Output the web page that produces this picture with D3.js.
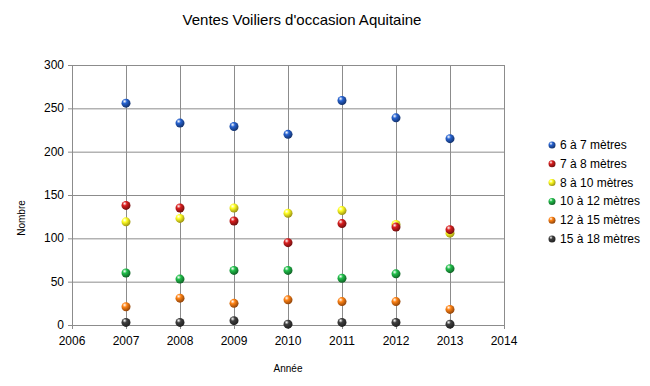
<!DOCTYPE html>
<html>
<head>
<meta charset="utf-8">
<script src="https://d3js.org/d3.v7.min.js"></script>
<style>
  body { margin: 0; background: #fff; }
  text { font-family: "Liberation Sans", Arial, sans-serif; fill: #000; }
</style>
</head>
<body>
<svg width="650" height="386"></svg>
<script>
var years = [2007, 2008, 2009, 2010, 2011, 2012, 2013];
var seriesNames = ["6 à 7 mètres", "7 à 8 mètres", "8 à 10 mètres", "10 à 12 mètres", "12 à 15 mètres", "15 à 18 mètres"];
var s6a7 = [256, 233, 229, 220, 259, 239, 215];
var s7a8 = [138, 135, 120, 95, 117, 113, 110];
var s8a10 = [119, 123, 135, 129, 132, 116, 106];
var s10a12 = [60, 53, 63, 63, 54, 59, 65];
var s12a15 = [21, 31, 25, 29, 27, 27, 18];
var s15a18 = [3, 3, 5, 1, 3, 3, 1];
var colors = ["#1f4fa8", "#b01818", "#f2e41c", "#1a9a3c", "#e06a10", "#333333"];
var xTicks = [2006, 2007, 2008, 2009, 2010, 2011, 2012, 2013, 2014];
var yTicks = [0, 50, 100, 150, 200, 250, 300];

var allSeries = [s6a7, s7a8, s8a10, s10a12, s12a15, s15a18];

var svg = d3.select("svg");
var x = d3.scaleLinear().domain([2006, 2014]).range([72, 504]);
var y = d3.scaleLinear().domain([0, 300]).range([325, 65]);

// sphere gradients
var defs = svg.append("defs");
colors.forEach(function(c, i) {
    var g = defs.append("radialGradient").attr("id", "ball" + i)
        .attr("cx", "35%").attr("cy", "30%").attr("r", "70%");
    g.append("stop").attr("offset", "0%").attr("stop-color", "#ffffff");
    g.append("stop").attr("offset", "35%").attr("stop-color", d3.color(c).brighter(0.6));
    g.append("stop").attr("offset", "100%").attr("stop-color", d3.color(c).darker(1.2));
});

// grid
svg.append("g").selectAll("line.h").data(yTicks).enter().append("line")
    .attr("x1", 72).attr("x2", 504)
    .attr("y1", function(d) { return y(d) + 0.5; }).attr("y2", function(d) { return y(d) + 0.5; })
    .attr("stroke", "#8c8c8c").attr("stroke-width", 1);
svg.append("g").selectAll("line.v").data(xTicks).enter().append("line")
    .attr("y1", 65).attr("y2", 329)
    .attr("x1", function(d) { return x(d) + 0.5; }).attr("x2", function(d) { return x(d) + 0.5; })
    .attr("stroke", "#8c8c8c").attr("stroke-width", 1);
// small ticks left
svg.append("g").selectAll("line.t").data(yTicks).enter().append("line")
    .attr("x1", 68).attr("x2", 72)
    .attr("y1", function(d) { return y(d) + 0.5; }).attr("y2", function(d) { return y(d) + 0.5; })
    .attr("stroke", "#8c8c8c");

// tick labels
svg.append("g").selectAll("text").data(yTicks).enter().append("text")
    .attr("x", 64).attr("y", function(d) { return y(d) + 4; })
    .attr("text-anchor", "end").attr("font-size", 12).text(function(d) { return d; });
svg.append("g").selectAll("text").data(xTicks).enter().append("text")
    .attr("x", function(d) { return x(d); }).attr("y", 345)
    .attr("text-anchor", "middle").attr("font-size", 12).text(function(d) { return d; });

// titles
svg.append("text").attr("x", 302).attr("y", 25).attr("text-anchor", "middle")
    .attr("font-size", 15).text("Ventes Voiliers d'occasion Aquitaine");
svg.append("text").attr("x", 288).attr("y", 372).attr("text-anchor", "middle")
    .attr("font-size", 10).text("Année");
svg.append("text").attr("transform", "translate(25,218) rotate(-90)").attr("text-anchor", "middle")
    .attr("font-size", 10).text("Nombre");

// points, drawn last series first so red sits over yellow like the original
allSeries.slice().reverse().forEach(function(vals, k) {
    var i = allSeries.length - 1 - k;
    svg.append("g").selectAll("circle").data(vals).enter().append("circle")
        .attr("cx", function(d, j) { return x(years[j]); })
        .attr("cy", function(d) { return y(d); })
        .attr("r", 4.5)
        .attr("fill", "url(#ball" + i + ")");
});

// legend
var leg = svg.append("g").selectAll("g").data(seriesNames).enter().append("g")
    .attr("transform", function(d, i) { return "translate(552," + (145 + i * 18.8) + ")"; });
leg.append("circle").attr("r", 3.5).attr("fill", function(d, i) { return "url(#ball" + i + ")"; });
leg.append("text").attr("x", 8).attr("y", 4).attr("font-size", 12).text(function(d) { return d; });
</script>
</body>
</html>
